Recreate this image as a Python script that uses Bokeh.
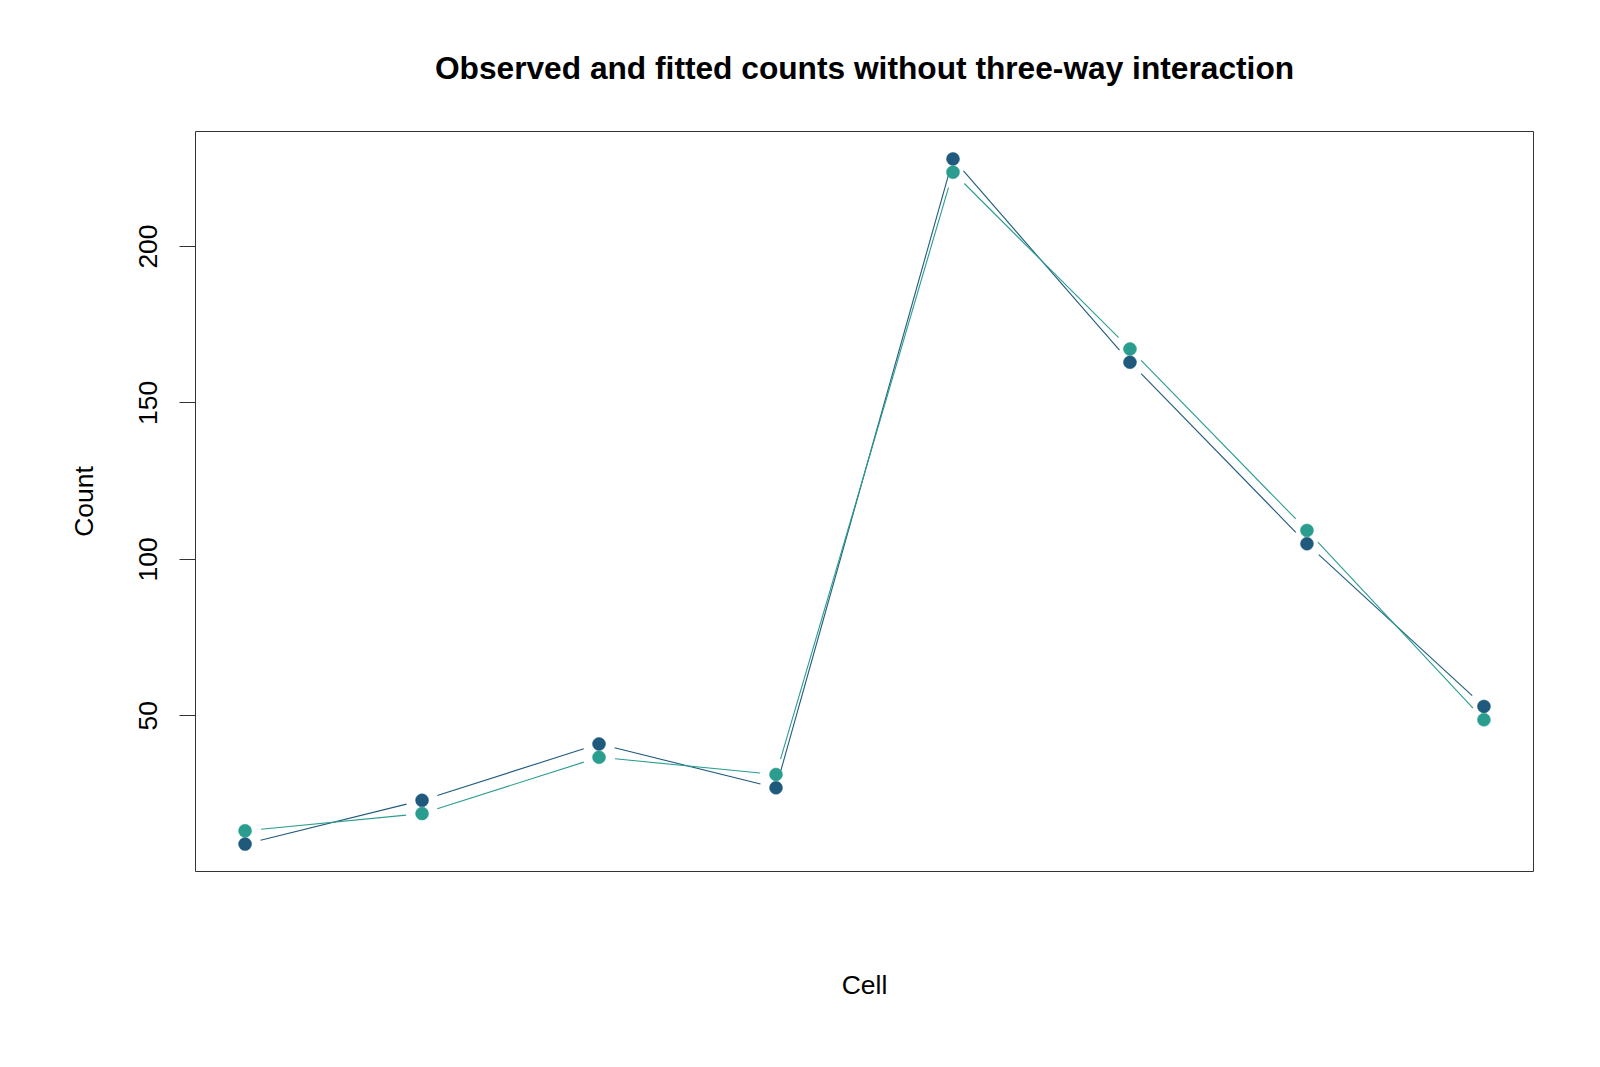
import numpy as np
from bokeh.plotting import figure
from bokeh.models import FixedTicker, Range1d, ColumnDataSource
from bokeh.embed import file_html
from bokeh.resources import INLINE

# Observed cell counts and fitted counts from the model without the three-way term
cells = [1, 2, 3, 4, 5, 6, 7, 8]
observed = [9, 23, 41, 27, 228, 163, 105, 53]
fitted = [13.25, 18.75, 36.75, 31.25, 223.75, 167.25, 109.25, 48.75]
y_ticks = [50, 100, 150, 200]

obs_color = "#1F5A7D"
fit_color = "#2A9D8F"
FONT = "Liberation Sans"

FW, FH = 1338, 740

# R-style 4% padding around the data range
allv = observed + fitted
ypad = 0.04 * (max(allv) - min(allv))
xpad = 0.04 * (max(cells) - min(cells))
x0, x1 = min(cells) - xpad, max(cells) + xpad
y0, y1 = min(allv) - ypad, max(allv) + ypad

p = figure(frame_width=FW, frame_height=FH, output_backend="svg", toolbar_location=None,
           x_range=Range1d(x0, x1), y_range=Range1d(y0, y1),
           min_border_left=195, min_border_right=67, min_border_top=131, min_border_bottom=196,
           background_fill_color="white", border_fill_color="white",
           title="Observed and fitted counts without three-way interaction")
p.grid.visible = False
p.outline_line_color = "#333333"
p.outline_line_width = 1

p.title.align = "center"
p.title.text_font = FONT
p.title.text_font_size = "31.7px"
p.title.text_font_style = "bold"
p.title.text_color = "black"
p.title.standoff = 92

# y axis
p.yaxis.ticker = FixedTicker(ticks=y_ticks)
p.yaxis.minor_tick_line_color = None
p.yaxis.axis_line_color = None
p.yaxis.major_tick_out = 16
p.yaxis.major_tick_in = 0
p.yaxis.major_tick_line_color = "#333333"
p.yaxis.major_label_orientation = "vertical"
p.yaxis.major_label_text_font = FONT
p.yaxis.major_label_text_font_size = "26.5px"
p.yaxis.major_label_text_color = "black"
p.yaxis.major_label_standoff = 22
p.yaxis.axis_label = "Count"
p.yaxis.axis_label_text_font = FONT
p.yaxis.axis_label_text_font_size = "26.5px"
p.yaxis.axis_label_text_font_style = "normal"
p.yaxis.axis_label_text_color = "black"
p.yaxis.axis_label_standoff = 38

# x axis: label only
p.xaxis.ticker = FixedTicker(ticks=[])
p.xaxis.axis_line_color = None
p.xaxis.major_tick_line_color = None
p.xaxis.minor_tick_line_color = None
p.xaxis.major_label_text_font_size = "0px"
p.xaxis.axis_label = "Cell"
p.xaxis.axis_label_text_font = FONT
p.xaxis.axis_label_text_font_size = "26.5px"
p.xaxis.axis_label_text_font_style = "normal"
p.xaxis.axis_label_text_color = "black"
p.xaxis.axis_label_standoff = 98

# type="b" style: segments between points with a gap around each point
GAP = 16.0
sx = FW / (x1 - x0)
sy = FH / (y1 - y0)


def gapped_segments(xs, ys):
    xs = np.asarray(xs, float)
    ys = np.asarray(ys, float)
    dxp = (xs[1:] - xs[:-1]) * sx
    dyp = (ys[1:] - ys[:-1]) * sy
    L = np.hypot(dxp, dyp)
    f = GAP / L
    dx = xs[1:] - xs[:-1]
    dy = ys[1:] - ys[:-1]
    return dict(x0=xs[:-1] + f * dx, y0=ys[:-1] + f * dy,
                x1=xs[1:] - f * dx, y1=ys[1:] - f * dy)


for vals, col in [(observed, obs_color), (fitted, fit_color)]:
    src = ColumnDataSource(gapped_segments(cells, vals))
    p.segment(x0="x0", y0="y0", x1="x1", y1="y1", source=src, line_color=col, line_width=1.1)
    p.scatter(cells, vals, size=13, fill_color=col, line_color=col, line_width=0.5)

open("out.html", "w").write(file_html(p, INLINE))
